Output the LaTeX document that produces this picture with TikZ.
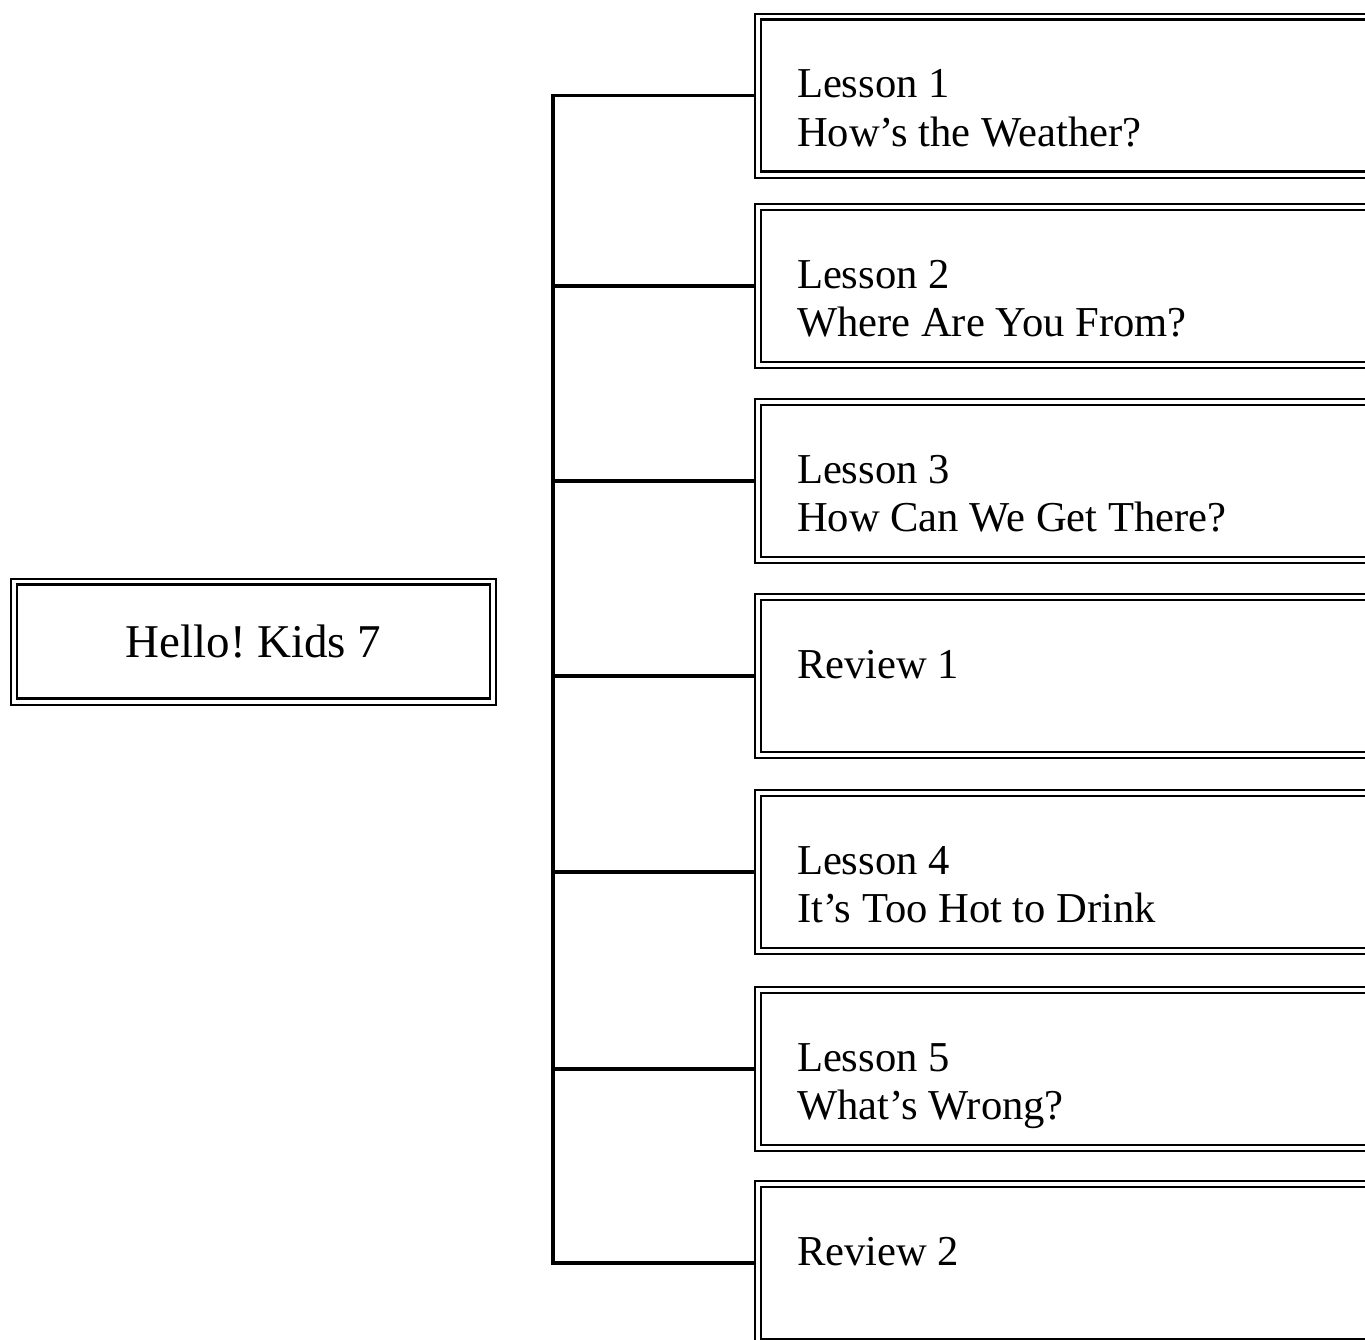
\documentclass[tikz,border=0pt]{standalone}
\usepackage{fontspec}
\setmainfont{Liberation Serif}
\frenchspacing
\tikzset{
  titlebox/.style={draw, line width=1pt, outer sep=0pt, inner sep=0pt,
    minimum width=242.5pt, minimum height=63pt,
    font=\fontsize{23.5pt}{27pt}\selectfont},
  unitbox/.style={draw, line width=1pt, outer sep=0pt, anchor=north west,
    inner xsep=21pt, inner ysep=0pt, text width=300pt, align=flush left,
    text height=42pt, text depth=40pt,
    font=\fontsize{21.3pt}{24.4pt}\selectfont},
  innerframe/.style={line width=1.4pt},
  branch/.style={line width=1.7pt},
}
\begin{document}
\begin{tikzpicture}[x=0.5pt,y=-0.5pt]
    \path[use as bounding box, clip] (0,0) rectangle (1365,1339);
    \node[titlebox] (kids) at (253.5,641.5) {Hello! Kids 7};
    \node[unitbox] (l1) at (755,13.5) {Lesson 1\\How's the Weather?};
    \node[unitbox] (l2) at (755,204) {Lesson 2\\Where Are You From?};
    \node[unitbox] (l3) at (755,399) {Lesson 3\\How Can We Get There?};
    \node[unitbox] (r1) at (755,594) {Review 1};
    \node[unitbox] (l4) at (755,790) {Lesson 4\\It's Too Hot to Drink};
    \node[unitbox] (l5) at (755,987) {Lesson 5\\What's Wrong?};
    \node[unitbox] (r2) at (755,1181) {Review 2};
    \foreach \b in {kids,l1,l2,l3,r1,l4,l5,r2}
      \draw[innerframe] ([shift={(6,6)}]\b.north west) rectangle ([shift={(-6,-6)}]\b.south east);
    \coordinate (trunk) at (553,0);
    \draw[branch] (l1.west) -| (trunk |- r2.west) -- (r2.west);
    \foreach \b in {l2,l3,r1,l4,l5}
      \draw[branch] (\b.west) -- (trunk |- \b.west);
  \end{tikzpicture}
\end{document}
